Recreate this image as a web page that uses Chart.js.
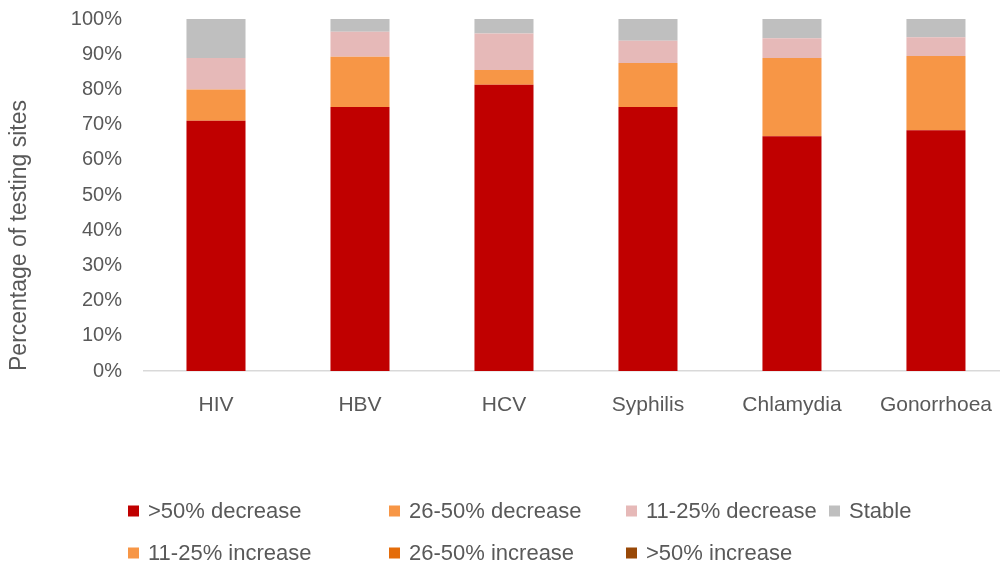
<!DOCTYPE html>
<html>
<head>
<meta charset="utf-8">
<script src="https://cdn.jsdelivr.net/npm/chart.js@4"></script>
<style>
  html, body { margin: 0; padding: 0; background: #fff; overflow: hidden; }
  #wrap { position: relative; width: 1014px; height: 565px; }
</style>
</head>
<body>
<div id="wrap"><canvas id="chart"></canvas></div>
<script>
  // categories and series (percent of testing sites)
  var categories = ['HIV', 'HBV', 'HCV', 'Syphilis', 'Chlamydia', 'Gonorrhoea'];
  var seriesNames = ['>50% decrease', '26-50% decrease', '11-25% decrease', 'Stable',
                     '11-25% increase', '26-50% increase', '>50% increase'];
  var decrease50 = [71.1, 75.0, 81.3, 75.0, 66.7, 68.4];
  var decrease26 = [8.9, 14.3, 4.2, 12.5, 22.2, 21.1];
  var decrease11 = [8.9, 7.1, 10.4, 6.3, 5.6, 5.3];
  var stable = [11.1, 3.6, 4.1, 6.2, 5.5, 5.2];
  var increase11 = [0, 0, 0, 0, 0, 0];
  var increase26 = [0, 0, 0, 0, 0, 0];
  var increase50 = [0, 0, 0, 0, 0, 0];
  var yTicks = [0, 10, 20, 30, 40, 50, 60, 70, 80, 90, 100];

  var colors = ['#C00000', '#F79646', '#E6B9B8', '#BFBFBF', '#F79646', '#E46C0A', '#984807'];
  var values = [decrease50, decrease26, decrease11, stable, increase11, increase26, increase50];
  var FONT = '"Liberation Sans", Arial, sans-serif';
  var TEXT = '#595959';

  var datasets = seriesNames.map(function (name, i) {
    return {
      label: name,
      data: values[i],
      backgroundColor: colors[i],
      borderWidth: 0,
      barPercentage: 0.41,
      categoryPercentage: 1
    };
  });

  // legend laid out in a grid like the original (4 + 3 items)
  var gridLegend = {
    id: 'gridLegend',
    afterDraw: function (chart) {
      var ctx = chart.ctx;
      var cols = [128, 389, 626, 829];
      var rows = [511, 553];
      ctx.save();
      ctx.font = '22px ' + FONT;
      ctx.textBaseline = 'middle';
      ctx.textAlign = 'left';
      chart.data.datasets.forEach(function (ds, i) {
        var x = cols[i % 4];
        var y = rows[Math.floor(i / 4)];
        ctx.fillStyle = ds.backgroundColor;
        ctx.fillRect(x, y - 5.5, 11, 11);
        ctx.fillStyle = TEXT;
        ctx.fillText(ds.label, x + 20, y + 1);
      });
      ctx.restore();
    }
  };

  new Chart(document.getElementById('chart'), {
    type: 'bar',
    data: { labels: categories, datasets: datasets },
    plugins: [gridLegend],
    options: {
      responsive: true,
      maintainAspectRatio: false,
      animation: false,
      layout: { padding: { top: 19, left: 0, right: 0, bottom: 0 } },
      plugins: {
        legend: { display: false },
        tooltip: { enabled: false }
      },
      scales: {
        x: {
          stacked: true,
          grid: { display: false, drawTicks: false },
          border: { display: true, color: '#D9D9D9', width: 1.5 },
          ticks: { color: TEXT, font: { family: FONT, size: 21 }, padding: 22, maxRotation: 0 },
          afterFit: function (s) { s.height = 194; }
        },
        y: {
          stacked: true,
          min: 0,
          max: 100,
          afterBuildTicks: function (s) { s.ticks = yTicks.map(function (v) { return { value: v }; }); },
          grid: { display: false, drawTicks: false },
          border: { display: false },
          ticks: {
            color: TEXT,
            font: { family: FONT, size: 20 },
            padding: 22,
            callback: function (v) { return v + '%'; }
          },
          title: {
            display: true,
            text: 'Percentage of testing sites',
            color: TEXT,
            align: 'start',
            font: { family: FONT, size: 23 },
            padding: { top: 6, bottom: 0 }
          },
          afterFit: function (s) { s.width = 144; s.paddingTop = 0; s.paddingBottom = 0; }
        }
      }
    }
  });
</script>
</body>
</html>
